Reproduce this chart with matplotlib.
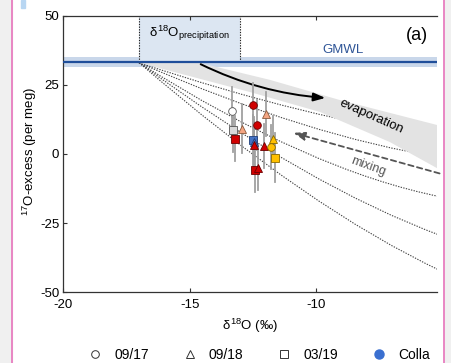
import matplotlib
matplotlib.use("Agg")
import matplotlib.pyplot as plt
from matplotlib.path import Path
from matplotlib.patches import PathPatch, Rectangle
from matplotlib.lines import Line2D

plt.rcParams['font.family'] = ['Liberation Sans', 'DejaVu Sans']
plt.rcParams['mathtext.fontset'] = 'custom'
plt.rcParams['mathtext.rm'] = 'Liberation Sans'
plt.rcParams['mathtext.it'] = 'Liberation Sans'
plt.rcParams['axes.unicode_minus'] = False

# samples: d18O, 17O-excess, error, sampling date marker, site colour
d18o = [-13.34, -13.27, -12.94, -13.21, -12.48, -11.98, -12.35, -12.48, -12.45,
        -12.45, -12.06, -11.69, -11.78, -11.62, -12.41, -12.28]
o17exc = [15.4, 8.8, 9.2, 5.6, 17.6, 14.4, 10.6, 5.0, 4.4,
          3.2, 3.0, 5.6, 2.5, -1.3, -5.9, -4.9]
err = [9, 8, 9, 8, 8, 8, 9, 9, 9,
       9, 8, 8, 8, 9, 8, 8]
shape = ['o', 's', '^', 's', 'o', '^', 'o', 's', '^',
         '^', '^', '^', 'o', 's', 's', '^']
site = ['w', 'g', 'o', 'r', 'r', 'o', 'r', 'b', 'b',
        'r', 'r', 'y', 'y', 'y', 'r', 'r']
site_col = {'w': '#ffffff', 'g': '#d9d9d9', 'o': '#f4a582', 'r': '#d00000',
            'y': '#ffc000', 'b': '#4472c4'}
site_edge = {'w': '#555555', 'g': '#555555', 'o': '#8a5a3c', 'r': '#6a0000',
             'y': '#8a6a00', 'b': '#1f3f7a'}

# GMWL and precipitation range
gmwl = 33.2
gmwl_band = (31.5, 35.0)
precip_range = (-17.0, -13.0)

# evaporation envelope edges
evap_up_x = [-17.0, -14.58, -11.82, -9.05, -5.21, -5.0]
evap_up_y = [33.0, 32.9, 26.8, 19.5, 10.5, 10.0]
evap_lo_x = [-16.96, -12.61, -9.84, -7.07, -5.21, -5.0]
evap_lo_y = [32.9, 22.4, 15.2, 4.3, -5.1, -6.5]

# mixing lines: start, middle and end points
mix_start = (-17.0, 33.0)
mix_mid = [(-10.63, 16.0), (-10.63, 11.0), (-10.63, 1.3), (-10.63, -5.2), (-10.63, -12.4)]
mix_end = [(-5.0, 6.0), (-5.0, -1.3), (-5.0, -15.6), (-5.0, -29.7), (-5.0, -42.5)]

legend_labels = ['09/17', '09/18', '03/19', 'Colla']
legend_markers = ['o', '^', 's', 'o']

fig = plt.figure(figsize=(4.51, 3.63), dpi=100)
ax = fig.add_axes([63.3 / 451, 1 - 292.3 / 363, (436.7 - 63.3) / 451, (292.3 - 15.7) / 363])

# page frame
fig.patches.append(Rectangle((0, 0), 12 / 451, 1, transform=fig.transFigure,
                             color='#f0f0f0', zorder=0))
fig.patches.append(Rectangle((444 / 451, 0), 7 / 451, 1, transform=fig.transFigure,
                             color='#f0f0f0', zorder=0))
for xp in (12.3, 444.3):
    fig.add_artist(Line2D([xp / 451, xp / 451], [0, 1], color='#e87dc0', lw=1.3))
fig.patches.append(Rectangle((21 / 451, 1 - 8 / 363), 4 / 451, 8 / 363,
                             transform=fig.transFigure, color='#b8d6f2', zorder=1))

ax.axhspan(*gmwl_band, color='#c9d7ea', lw=0, zorder=1)
ax.fill_between(precip_range, gmwl, 50, color='#dce6f2', lw=0, zorder=1)
for xv in precip_range:
    ax.plot([xv, xv], [gmwl, 50], color='#222222', lw=0.8, ls=(0, (1.2, 1.2)), zorder=2)
ax.axhline(gmwl, color='#1f4e9a', lw=1.6, zorder=4)

# mixing lines as quadratic curves
for (mx, my), (ex, ey) in zip(mix_mid, mix_end):
    sx, sy = mix_start
    cx = 2 * mx - 0.5 * (sx + ex)
    cy = 2 * my - 0.5 * (sy + ey)
    p = Path([(sx, sy), (cx, cy), (ex, ey)], [Path.MOVETO, Path.CURVE3, Path.CURVE3])
    ax.add_patch(PathPatch(p, fill=False, ec='#444444', lw=0.8,
                           ls=(0, (1.2, 1.2)), zorder=2))

# evaporation envelope
ax.fill(evap_up_x + evap_lo_x[::-1], evap_up_y + evap_lo_y[::-1],
        color='#e3e3e3', lw=0, zorder=3)

ax.annotate('', xy=(-9.52, 20.2), xytext=(-14.66, 32.9),
            arrowprops=dict(arrowstyle='-|>,head_length=0.7,head_width=0.25', color='black',
                            lw=1.4, connectionstyle='arc3,rad=0.1'), zorder=5)
ax.annotate('', xy=(-11.0, 7.9), xytext=(-5.0, -7.3),
            arrowprops=dict(arrowstyle='-|>,head_length=0.7,head_width=0.25', color='#555555',
                            lw=1.3, ls=(0, (3, 2))), zorder=5)

# samples
for x, y, e, m, s in zip(d18o, o17exc, err, shape, site):
    ax.plot([x, x], [y - e, y + e], color='#a0a0a0', lw=1.3, zorder=6)
for x, y, m, s in zip(d18o, o17exc, shape, site):
    ax.plot(x, y, marker=m, ms=5.5, mfc=site_col[s], mec=site_edge[s], mew=0.6,
            ls='none', zorder=7)

ax.text(-15, 43.5, r'$\delta^{18}$O$_{\mathregular{precipitation}}$', fontsize=9.5,
        ha='center', va='center', zorder=5)
ax.text(-8.93, 37.6, 'GMWL', color='#2f5597', fontsize=9.5, ha='center', va='center')
ax.text(-6.0, 43.0, '(a)', fontsize=13, ha='center', va='center')
ax.text(-7.79, 13.5, 'evaporation', fontsize=9.5, rotation=-24, ha='center',
        va='center', rotation_mode='anchor', zorder=5)
ax.text(-7.94, -4.6, 'mixing', fontsize=9, color='#555555', rotation=-20, ha='center',
        va='center', rotation_mode='anchor', zorder=5)

ax.set_xlim(-20, -5.22)
ax.set_ylim(-50, 50)
ax.set_xticks([-20, -15, -10])
ax.set_yticks([-50, -25, 0, 25, 50])
ax.tick_params(direction='in', top=True, right=False, labelsize=9.5, length=3,
               width=0.8, color='#333333')
ax.tick_params(axis='x', pad=5)
ax.tick_params(axis='y', pad=3)
ax.spines['right'].set_visible(False)
for sp in ('left', 'bottom', 'top'):
    ax.spines[sp].set_color('#333333')
    ax.spines[sp].set_linewidth(0.9)
ax.set_xlabel(r'$\delta^{18}$O (‰)', fontsize=9.5, labelpad=4)
ax.set_ylabel(r'$^{17}$O-excess (per meg)', fontsize=9.5)
ax.yaxis.set_label_coords(-0.064, 0.51)

handles = []
for m, lab in zip(legend_markers, legend_labels):
    if lab == 'Colla':
        handles.append(Line2D([], [], marker=m, ls='none', ms=6.5, mfc='#3a6fd0', mec='#3a6fd0'))
    else:
        handles.append(Line2D([], [], marker=m, ls='none', ms=5.5, mfc='white', mec='#333333',
                              mew=0.7))
fig.legend(handles, legend_labels, loc='center left', ncol=4, frameon=False,
           bbox_to_anchor=(76 / 451, 1 - 355 / 363), fontsize=10, handlelength=1.0,
           handletextpad=0.86, columnspacing=2.45, borderpad=0.4)

fig.savefig('out.png', dpi=100)
